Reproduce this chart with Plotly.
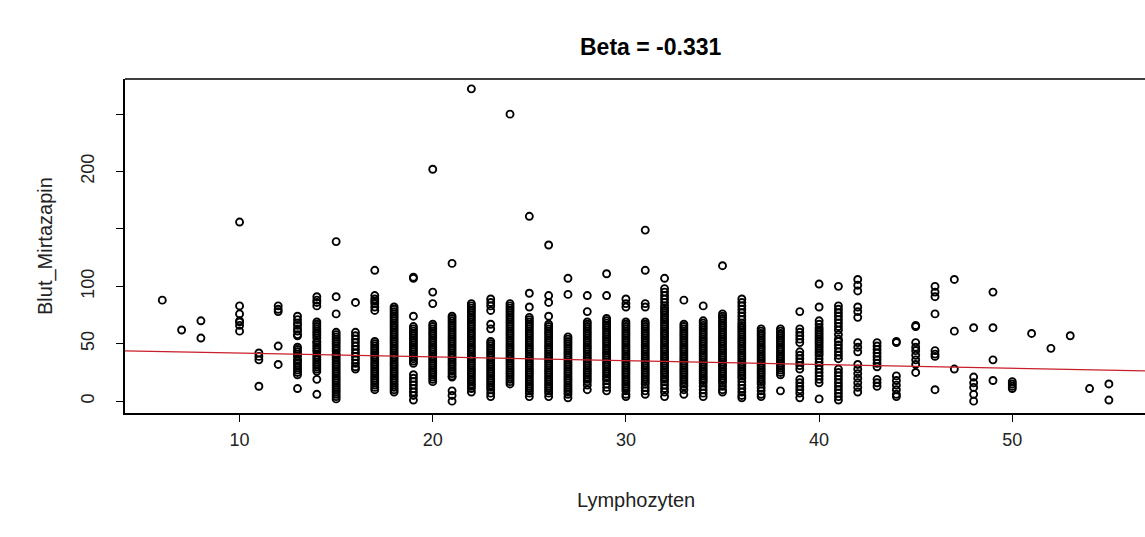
import plotly.graph_objects as go

m06 = [88]
m07 = [62]
m08 = [70, 55]
m10 = [156, 83, 76, 70, 69, 66, 61]
m11 = [42, 39, 36, 13]
m12 = [83, 80, 78, 48, 32]
m13 = [74, 71, 68, 66, 63, 61, 58, 57, 47, 45, 43, 41, 39, 36, 35, 33, 31, 29, 27, 25, 23, 11]
m14 = [91, 88, 86, 83, 69, 67, 65, 63, 61, 59, 57, 55, 52, 51, 49, 47, 45, 43, 40, 38, 36, 34, 32, 30, 28, 26, 19, 6]
m15 = [139, 91, 76, 60, 58, 56, 54, 52, 50, 48, 46, 44, 41, 40, 38, 36, 34, 32, 30, 28, 26, 24, 22, 20, 18, 16, 14, 12, 10, 8, 6, 4, 2]
m16 = [86, 60, 57, 54, 51, 48, 45, 42, 39, 36, 33, 30, 28]
m17 = [114, 92, 89, 87, 85, 82, 79, 52, 50, 48, 46, 44, 42, 40, 38, 36, 34, 32, 30, 28, 26, 24, 22, 20, 18, 16, 14, 12, 10]
m18 = [82, 80, 78, 76, 74, 72, 70, 68, 66, 64, 62, 60, 58, 56, 54, 52, 50, 48, 46, 44, 42, 40, 38, 36, 34, 32, 30, 28, 26, 24, 22, 20, 18, 16, 14, 12, 10, 8]
m19 = [108, 107, 74, 65, 63, 61, 59, 57, 55, 53, 51, 49, 47, 45, 43, 41, 39, 37, 35, 33, 23, 20, 17, 14, 11, 8, 5, 1]
m20 = [202, 95, 85, 67, 65, 63, 61, 59, 57, 55, 53, 51, 49, 47, 45, 43, 41, 39, 37, 35, 33, 31, 29, 27, 25, 23, 21, 19, 17]
m21 = [120, 74, 72, 70, 68, 66, 64, 62, 60, 58, 56, 54, 52, 50, 48, 46, 44, 42, 40, 38, 36, 34, 32, 30, 28, 26, 24, 22, 21, 9, 5, 0]
m22 = [272, 85, 83, 81, 79, 77, 75, 73, 71, 69, 67, 65, 63, 61, 59, 57, 55, 53, 51, 49, 47, 45, 43, 41, 39, 37, 35, 33, 31, 29, 27, 25, 23, 21, 19, 17, 15, 13, 11, 8]
m23 = [89, 86, 83, 79, 67, 63, 52, 50, 48, 46, 44, 42, 40, 38, 36, 34, 32, 30, 28, 26, 24, 22, 20, 18, 16, 14, 12, 10, 7, 4]
m24 = [250, 85, 83, 81, 79, 77, 75, 73, 71, 69, 67, 65, 63, 61, 59, 57, 55, 53, 51, 49, 47, 45, 43, 41, 39, 37, 35, 33, 31, 29, 27, 25, 23, 21, 19, 17, 15]
m25 = [161, 94, 82, 73, 71, 69, 67, 65, 63, 61, 59, 57, 55, 53, 51, 49, 47, 45, 43, 41, 39, 37, 35, 33, 31, 29, 27, 25, 23, 21, 19, 17, 15, 13, 11, 9, 7, 4]
m26 = [136, 92, 86, 74, 67, 65, 63, 61, 59, 57, 55, 53, 51, 49, 47, 45, 43, 41, 39, 37, 35, 33, 31, 29, 27, 25, 23, 21, 19, 17, 15, 13, 11, 9, 7, 4]
m27 = [107, 93, 56, 54, 52, 50, 48, 46, 44, 42, 40, 38, 36, 34, 32, 30, 28, 26, 24, 22, 20, 18, 16, 14, 12, 10, 8, 6, 3]
m28 = [92, 78, 69, 67, 65, 63, 61, 59, 57, 55, 53, 51, 49, 47, 45, 43, 41, 39, 37, 35, 33, 31, 29, 27, 25, 23, 21, 19, 17, 14, 10]
m29 = [111, 92, 72, 70, 68, 66, 64, 62, 60, 58, 56, 54, 52, 50, 48, 46, 44, 42, 40, 38, 36, 34, 32, 30, 28, 26, 24, 22, 20, 18, 15, 12, 9]
m30 = [89, 85, 82, 69, 67, 65, 63, 61, 59, 57, 55, 53, 51, 49, 47, 45, 43, 41, 39, 37, 35, 33, 31, 29, 27, 25, 23, 21, 19, 17, 15, 13, 11, 9, 6, 4]
m31 = [149, 114, 85, 82, 69, 67, 65, 63, 61, 59, 57, 55, 53, 51, 49, 47, 45, 43, 41, 39, 37, 35, 33, 31, 29, 27, 25, 23, 21, 19, 17, 15, 12, 9, 6]
m32 = [107, 98, 95, 92, 89, 86, 83, 81, 79, 77, 75, 73, 71, 69, 67, 65, 63, 61, 59, 57, 55, 53, 51, 49, 47, 45, 43, 41, 39, 37, 35, 33, 31, 29, 27, 25, 23, 21, 19, 17, 14, 11, 8, 4]
m33 = [88, 67, 65, 63, 61, 59, 57, 55, 53, 51, 49, 47, 45, 43, 41, 39, 37, 35, 33, 31, 29, 27, 25, 23, 21, 19, 17, 15, 13, 10, 6]
m34 = [83, 70, 68, 66, 64, 62, 60, 58, 56, 54, 52, 50, 48, 46, 44, 42, 40, 38, 36, 34, 32, 30, 28, 26, 24, 22, 20, 18, 16, 13, 10, 7, 4]
m35 = [118, 76, 74, 72, 70, 68, 66, 64, 62, 60, 58, 56, 54, 52, 50, 48, 46, 44, 42, 40, 38, 36, 34, 32, 30, 28, 26, 24, 22, 20, 18, 16, 13, 10, 8]
m36 = [89, 86, 83, 80, 77, 74, 71, 68, 66, 64, 62, 60, 58, 56, 54, 52, 50, 48, 46, 44, 42, 40, 38, 36, 34, 32, 30, 28, 26, 24, 22, 20, 17, 14, 11, 8, 5, 3]
m37 = [63, 61, 59, 57, 55, 53, 51, 49, 47, 45, 43, 41, 39, 37, 35, 33, 31, 29, 27, 25, 23, 21, 19, 17, 15, 12, 9, 6, 4]
m38 = [63, 61, 59, 57, 55, 53, 51, 49, 47, 45, 43, 41, 39, 37, 35, 33, 31, 29, 27, 25, 23, 9]
m39 = [78, 63, 60, 57, 54, 51, 43, 40, 37, 34, 31, 28, 19, 16, 13, 10, 7, 3]
m40 = [102, 82, 70, 67, 64, 62, 60, 58, 56, 54, 52, 50, 48, 46, 44, 42, 40, 37, 34, 31, 28, 25, 22, 19, 16, 2]
m41 = [100, 83, 80, 77, 74, 71, 68, 65, 62, 58, 54, 52, 49, 46, 43, 40, 37, 28, 25, 22, 19, 16, 13, 10, 7, 4, 1]
m42 = [106, 101, 96, 82, 78, 73, 51, 47, 43, 32, 28, 24, 20, 16, 12, 8]
m43 = [51, 48, 45, 42, 39, 36, 33, 30, 19, 16, 13]
m44 = [52, 51, 22, 18, 14, 10, 6, 4]
m45 = [66, 65, 51, 47, 44, 40, 36, 32, 25]
m46 = [100, 95, 91, 76, 44, 41, 39, 10]
m47 = [106, 61, 28]
m48 = [64, 21, 16, 12, 6, 0]
m49 = [95, 64, 36, 18]
m50 = [17, 15, 13, 11]
m51 = [59]
m52 = [46]
m53 = [57]
m54 = [11]
m55 = [15, 1]

lymph_groups = [6, 7, 8, 10, 11, 12, 13, 14, 15, 16, 17, 18, 19, 20, 21, 22, 23, 24, 25,
                26, 27, 28, 29, 30, 31, 32, 33, 34, 35, 36, 37, 38, 39, 40, 41, 42, 43,
                44, 45, 46, 47, 48, 49, 50, 51, 52, 53, 54, 55]
mirt_groups = [m06, m07, m08, m10, m11, m12, m13, m14, m15, m16, m17, m18, m19, m20, m21,
               m22, m23, m24, m25, m26, m27, m28, m29, m30, m31, m32, m33, m34, m35, m36,
               m37, m38, m39, m40, m41, m42, m43, m44, m45, m46, m47, m48, m49, m50, m51,
               m52, m53, m54, m55]

# regression line
fit_intercept = 45.2
fit_slope = -0.331

x_ticks = [10, 20, 30, 40, 50]
y_ticks = [0, 50, 100, 150, 200, 250]
y_tick_text = ["0", "50", "100", "", "200", ""]

x_range = [4.07, 56.87]
y_range = [-10.3, 280.6]

lymph = []
mirt = []
for xv, ys in zip(lymph_groups, mirt_groups):
    for yv in ys:
        lymph.append(xv)
        mirt.append(yv)

FONT = "Liberation Sans, Arial, sans-serif"

fig = go.Figure()
fig.add_trace(go.Scatter(
    x=lymph, y=mirt, mode="markers",
    marker=dict(symbol="circle-open", size=7, color="black",
                line=dict(color="black", width=1.9)),
    showlegend=False, hoverinfo="x+y",
))
fig.add_trace(go.Scatter(
    x=x_range, y=[fit_intercept + fit_slope * v for v in x_range],
    mode="lines", line=dict(color="#c81e2a", width=1.3),
    showlegend=False, hoverinfo="skip",
))

fig.update_layout(
    width=1145, height=537,
    margin=dict(l=125, r=0, t=79, b=124),
    paper_bgcolor="white", plot_bgcolor="white",
    font=dict(family=FONT, color="black", size=18),
    xaxis=dict(range=x_range, tickvals=x_ticks, ticks="outside", ticklen=7,
               tickcolor="black", tickwidth=1, showgrid=False, zeroline=False,
               showline=True, linecolor="black", linewidth=1.5, mirror=False,
               ticklabelstandoff=3,
               tickfont=dict(size=18, color="#222")),
    yaxis=dict(range=y_range, tickvals=y_ticks, ticktext=y_tick_text, tickangle=-90,
               ticks="outside", ticklen=7, tickcolor="black", tickwidth=1,
               showgrid=False, zeroline=False, showline=True, linecolor="black",
               linewidth=1.5, mirror=False, ticklabelstandoff=15,
               tickfont=dict(size=18, color="#222")),
    shapes=[dict(type="line", xref="paper", yref="paper", x0=0, x1=1, y0=1, y1=1,
                 line=dict(color="black", width=1.5))],
    annotations=[
        dict(text="<b>Beta = -0.331</b>", xref="paper", yref="paper",
             x=(650 - 125) / 1020, y=1 + (79 - 47) / 334, showarrow=False,
             xanchor="center", yanchor="middle", font=dict(size=23, color="black")),
        dict(text="Lymphozyten", xref="paper", yref="paper",
             x=(636 - 125) / 1020, y=-(500 - 413) / 334, showarrow=False,
             xanchor="center", yanchor="middle", font=dict(size=20, color="#222")),
        dict(text="Blut_Mirtazapin", xref="paper", yref="paper",
             x=-(125 - 45) / 1020, y=0.5, textangle=-90, showarrow=False,
             xanchor="center", yanchor="middle", font=dict(size=20, color="#222")),
    ],
)

fig.write_html("out.html")
